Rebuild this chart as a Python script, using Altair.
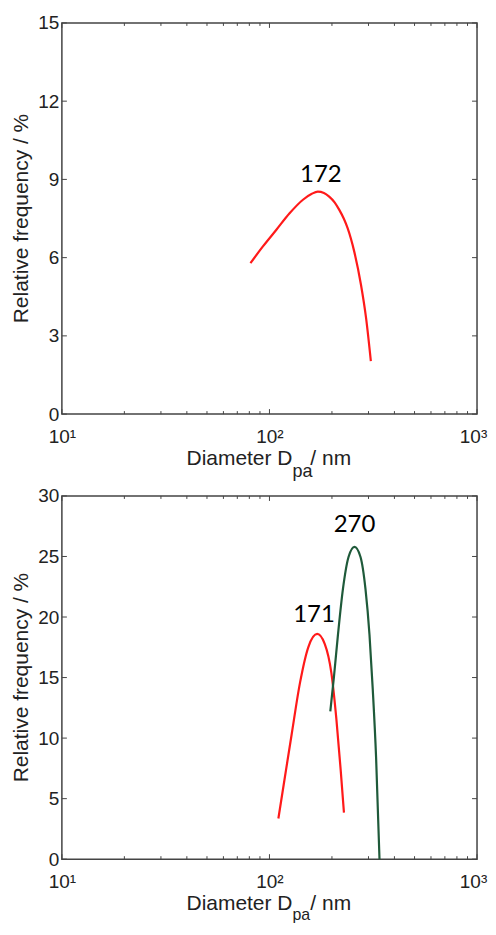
import altair as alt
import pandas as pd

# ---------------- data ----------------
top_x = [81, 93, 108, 125, 145, 160, 171, 183, 194, 206, 217, 228, 238, 256, 276, 292, 308]
top_y = [5.79, 6.43, 7.07, 7.70, 8.22, 8.45, 8.53, 8.48, 8.34, 8.12, 7.83, 7.5, 7.13, 6.24, 4.96, 3.69, 2.03]

red_x = [110.4, 118.8, 127.9, 140.3, 153.8, 169.8, 184.8, 198.8, 210, 220.4, 228.5]
red_y = [3.36, 6.83, 10.3, 14.56, 17.5, 18.6, 17.76, 15.36, 11.6, 7.36, 3.84]

green_x = [196.4, 204.6, 213.9, 225.9, 240.4, 256.9, 274.6, 290.2, 303.3, 314.6, 326.4, 339]
green_y = [12.2, 15.1, 18.56, 22.3, 24.96, 25.8, 24.96, 22.3, 18.56, 14.0, 8.4, 0.0]

top_labels = ["172"]
top_label_x = [177]
top_label_y = [9.16]

bot_labels = ["171", "270"]
bot_label_x = [164, 257]
bot_label_y = [20.2, 27.6]

top_yticks = [0, 3, 6, 9, 12, 15]
bot_yticks = [0, 5, 10, 15, 20, 25, 30]
x_major = [10, 100, 1000]
x_minor = [20, 30, 40, 50, 60, 70, 80, 90, 200, 300, 400, 500, 600, 700, 800, 900]

y_title = "Relative frequency / %"
x_title_main = "Diameter D"
x_title_sub = "pa"
x_title_end = "/ nm"

RED = "#ff1a1a"
GREEN = "#1f5a3a"
FRAME = "#444444"
TXT = "#222222"
FONT = "Liberation Sans"


def panel(series, labels, ymax, yticks, W, H, label_pad, title_dy, sub_dy, sub_size):
    xs = alt.Scale(type="log", domain=[10, 1000])
    ys = alt.Scale(domain=[0, ymax], nice=False)
    xaxis = alt.Axis(values=x_major,
                     labelExpr="datum.value == 10 ? '10\u00b9' : datum.value == 100 ? '10\u00b2' : '10\u00b3'",
                     grid=False, ticks=False, domain=False, tickSize=0, title=None,
                     labelFont=FONT, labelFontSize=19, labelColor=TXT, labelPadding=label_pad,
                     labelBaseline="alphabetic", labelFlush=False,
                     labelOffset={"condition": {"test": "datum.value == 1000", "value": -4}, "value": 0})
    yaxis = alt.Axis(values=yticks, grid=False, ticks=False, domain=False, tickSize=0, title=None,
                     labelFont=FONT, labelFontSize=19, labelColor=TXT, labelPadding=3,
                     labelFlush=False)
    X = alt.X("d:Q", scale=xs, axis=xaxis)
    Y = alt.Y("f:Q", scale=ys, axis=yaxis)

    layers = []
    for xs_, ys_, col in series:
        df = pd.DataFrame({"d": xs_, "f": ys_})
        layers.append(alt.Chart(df).mark_line(color=col, strokeWidth=2.2, interpolate="monotone").encode(x=X, y=Y))

    lab_df = pd.DataFrame({"d": labels[1], "f": labels[2], "t": labels[0]})
    layers.append(alt.Chart(lab_df).mark_text(font="Lato", fontSize=24, color="black", baseline="middle", align="center")
                  .encode(x=X, y=Y, text="t:N"))

    yt = pd.DataFrame({"f": yticks})
    layers.append(alt.Chart(yt).mark_rule(color=FRAME, strokeWidth=1).encode(y=Y, x=alt.value(0), x2=alt.value(5)))
    layers.append(alt.Chart(yt).mark_rule(color=FRAME, strokeWidth=1).encode(y=Y, x=alt.value(W - 5), x2=alt.value(W)))

    xmj = pd.DataFrame({"d": x_major})
    xmn = pd.DataFrame({"d": x_minor})
    for df, ln in ((xmj, 5), (xmn, 3)):
        layers.append(alt.Chart(df).mark_rule(color=FRAME, strokeWidth=1).encode(x=X, y=alt.value(H), y2=alt.value(H - ln)))
        layers.append(alt.Chart(df).mark_rule(color=FRAME, strokeWidth=1).encode(x=X, y=alt.value(0), y2=alt.value(ln)))

    # axis titles as text
    layers.append(alt.Chart(pd.DataFrame({"t": [y_title]})).mark_text(
        font=FONT, fontSize=21, color=TXT, angle=270, align="center", baseline="middle")
        .encode(text="t:N", x=alt.value(-40), y=alt.value(H / 2)))
    layers.append(alt.Chart(pd.DataFrame({"t": [x_title_main]})).mark_text(
        font=FONT, fontSize=21, color=TXT, align="right", baseline="alphabetic")
        .encode(text="t:N", x=alt.value(231), y=alt.value(H + title_dy)))
    layers.append(alt.Chart(pd.DataFrame({"t": [x_title_sub]})).mark_text(
        font=FONT, fontSize=sub_size, color=TXT, align="left", baseline="alphabetic")
        .encode(text="t:N", x=alt.value(231), y=alt.value(H + sub_dy)))
    layers.append(alt.Chart(pd.DataFrame({"t": [x_title_end]})).mark_text(
        font=FONT, fontSize=21, color=TXT, align="left", baseline="alphabetic")
        .encode(text="t:N", x=alt.value(249), y=alt.value(H + title_dy)))

    return alt.layer(*layers).properties(width=W, height=H)


top = panel([(top_x, top_y, RED)], (top_labels, top_label_x, top_label_y), 15, top_yticks,
            416, 392, 28, 51, 63, 18)
bottom = panel([(red_x, red_y, RED), (green_x, green_y, GREEN)], (bot_labels, bot_label_x, bot_label_y),
               30, bot_yticks, 416, 364, 28, 51, 61, 16)

chart = alt.vconcat(top, bottom, spacing=82, bounds="flush").properties(
    padding={"left": 2, "top": 4, "right": 0, "bottom": 0}
).configure_view(stroke=FRAME, strokeWidth=1.5)

chart.save("out.html", embed_options={"renderer": "svg", "actions": False})
